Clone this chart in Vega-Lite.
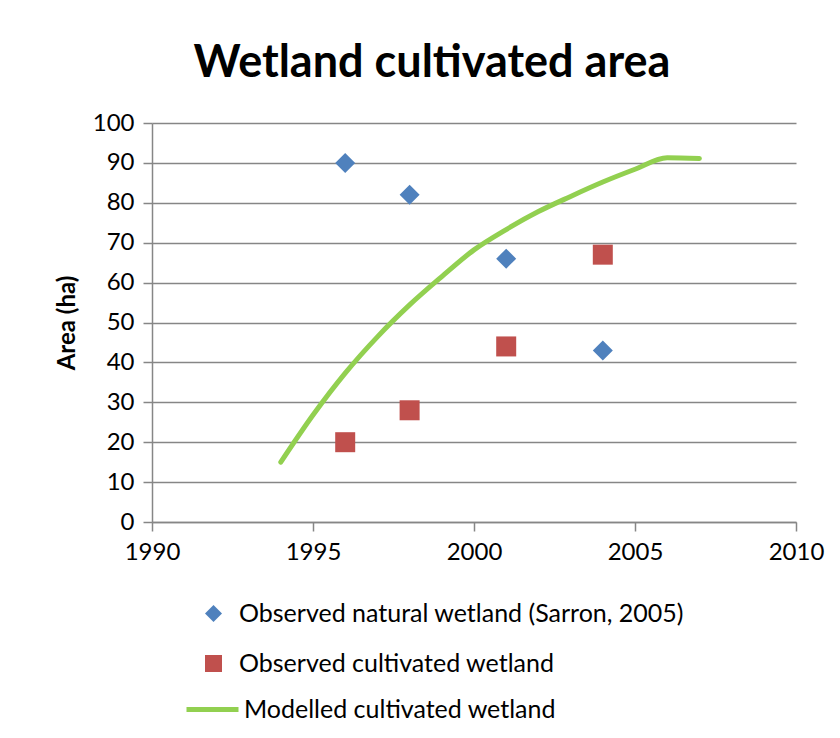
{
  "$schema": "https://vega.github.io/schema/vega-lite/v6.json",
  "autosize": {"type": "none"},
  "padding": {"left": 152, "top": 123, "right": 44, "bottom": 216},
  "width": 644,
  "height": 399,
  "background": "white",
  "title": {
    "text": "Wetland cultivated area",
    "font": "Lato",
    "fontSize": 45,
    "fontWeight": "bold",
    "color": "black",
    "anchor": "middle",
    "dx": -42,
    "offset": 25
  },
  "config": {
    "view": {"stroke": null},
    "font": "Lato",
    "axis": {
      "labelFont": "Lato",
      "labelFontSize": 24,
      "labelColor": "black",
      "labelOverlap": false,
      "labelFlush": false,
      "domainColor": "#868686",
      "domainWidth": 1.5,
      "tickColor": "#868686",
      "tickWidth": 1.5,
      "tickSize": 9,
      "gridColor": "#868686",
      "gridWidth": 1.5,
      "labelPadding": 9,
      "titleFont": "Lato",
      "titleFontSize": 24,
      "titleFontWeight": "bold",
      "titleColor": "black"
    },
    "legend": {
      "labelFont": "Lato",
      "labelFontSize": 25,
      "labelColor": "black",
      "labelLimit": 0,
      "padding": 0
    }
  },
  "datasets": {
    "points": [
      {"year": 1996, "area": 90, "series": "Observed natural wetland (Sarron, 2005)"},
      {"year": 1998, "area": 82, "series": "Observed natural wetland (Sarron, 2005)"},
      {"year": 2001, "area": 66, "series": "Observed natural wetland (Sarron, 2005)"},
      {"year": 2004, "area": 43, "series": "Observed natural wetland (Sarron, 2005)"},
      {"year": 1996, "area": 20, "series": "Observed cultivated wetland"},
      {"year": 1998, "area": 28, "series": "Observed cultivated wetland"},
      {"year": 2001, "area": 44, "series": "Observed cultivated wetland"},
      {"year": 2004, "area": 67, "series": "Observed cultivated wetland"}
    ],
    "model": [
      {"year": 1994, "area": 15, "series": "Modelled cultivated wetland"},
      {"year": 1995, "area": 26.8, "series": "Modelled cultivated wetland"},
      {"year": 1996, "area": 37.3, "series": "Modelled cultivated wetland"},
      {"year": 1997, "area": 46.4, "series": "Modelled cultivated wetland"},
      {"year": 1998, "area": 54.4, "series": "Modelled cultivated wetland"},
      {"year": 1999, "area": 61.5, "series": "Modelled cultivated wetland"},
      {"year": 2000, "area": 68.2, "series": "Modelled cultivated wetland"},
      {"year": 2001, "area": 73.3, "series": "Modelled cultivated wetland"},
      {"year": 2002, "area": 77.8, "series": "Modelled cultivated wetland"},
      {"year": 2003, "area": 81.6, "series": "Modelled cultivated wetland"},
      {"year": 2004, "area": 85.2, "series": "Modelled cultivated wetland"},
      {"year": 2005, "area": 88.4, "series": "Modelled cultivated wetland"},
      {"year": 2006, "area": 91.3, "series": "Modelled cultivated wetland"},
      {"year": 2007, "area": 91.1, "series": "Modelled cultivated wetland"}
    ]
  },
  "layer": [
    {
      "data": {"name": "model"},
      "mark": {"type": "line", "strokeWidth": 5, "strokeCap": "round", "interpolate": "monotone"},
      "encoding": {
        "x": {"field": "year", "type": "quantitative", "scale": {"domain": [1990, 2010], "nice": false, "zero": false},
              "axis": {"values": [1990, 1995, 2000, 2005, 2010], "format": "d", "title": null, "grid": false}},
        "y": {"field": "area", "type": "quantitative", "scale": {"domain": [0, 100], "nice": false},
              "axis": {"values": [0, 10, 20, 30, 40, 50, 60, 70, 80, 90, 100], "title": "Area (ha)", "titlePadding": 13}},
        "color": {"field": "series", "type": "nominal",
                  "scale": {"domain": ["Modelled cultivated wetland"], "range": ["#92D050"]},
                  "legend": {"title": null, "orient": "none", "legendX": 32, "legendY": 558, "symbolType": "stroke", "symbolSize": 2704, "symbolStrokeWidth": 5, "labelOffset": 3}}
      }
    },
    {
      "data": {"name": "points"},
      "mark": {"type": "point", "filled": true, "opacity": 1, "size": 400},
      "encoding": {
        "x": {"field": "year", "type": "quantitative",
              "axis": {"values": [1990, 1995, 2000, 2005, 2010], "format": "d", "title": null, "grid": false}},
        "y": {"field": "area", "type": "quantitative",
              "axis": {"values": [0, 10, 20, 30, 40, 50, 60, 70, 80, 90, 100], "title": "Area (ha)", "titlePadding": 13}},
        "color": {"field": "series", "type": "nominal",
                  "scale": {"domain": ["Observed natural wetland (Sarron, 2005)", "Observed cultivated wetland"], "range": ["#4F81BD", "#C0504D"]},
                  "legend": {"title": null, "orient": "none", "legendX": 49, "legendY": 478, "symbolSize": 290, "labelOffset": 13, "rowPadding": 24}},
        "shape": {"field": "series", "type": "nominal",
                  "scale": {"domain": ["Observed natural wetland (Sarron, 2005)", "Observed cultivated wetland"], "range": ["diamond", "square"]},
                  "legend": {"title": null, "orient": "none", "legendX": 49, "legendY": 478, "symbolSize": 290, "labelOffset": 13, "rowPadding": 24}}
      }
    }
  ],
  "resolve": {"scale": {"color": "independent", "shape": "independent"}, "legend": {"color": "independent"}}
}
